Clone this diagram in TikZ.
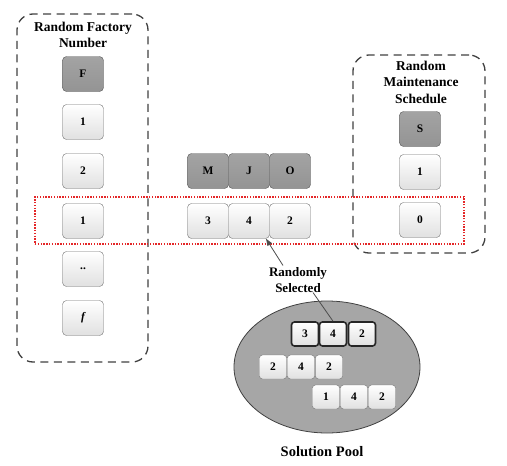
\documentclass[tikz,border=0pt]{standalone}
\usepackage{fontspec}
\setmainfont{Liberation Serif}
\usetikzlibrary{shapes.geometric,arrows.meta}
\definecolor{selred}{RGB}{228,38,40}
\begin{document}
\begin{tikzpicture}[x=1pt,y=-1pt,
  cell/.style={draw=black!55, rounded corners=4pt, top color=white, bottom color=black!12,
    minimum width=41pt, minimum height=35pt, inner sep=0pt, font=\bfseries\fontsize{11.5}{13}\selectfont},
  dcell/.style={cell, top color=black!36, bottom color=black!42, draw=black!65},
  pcell/.style={cell, minimum width=27pt, minimum height=24pt, rounded corners=3pt},
  hcell/.style={pcell, draw=black!85, line width=1.6pt},
  container/.style={draw=black!75, dashed, dash pattern=on 8pt off 5.5pt, line width=1.3pt, rounded corners=16pt, inner sep=0pt},
  selbox/.style={draw=selred, dash pattern=on 1.4pt off 1.4pt, line width=1.6pt, inner sep=0pt},
  title/.style={font=\bfseries\fontsize{13.5}{16.5}\selectfont, align=center, inner sep=0pt},
  conn/.style={draw=black!70, line width=0.8pt}
]
\useasboundingbox (0,0) rectangle (507,466);

% containers
\node[container, minimum width=131pt, minimum height=348pt] (lbox) at (82.5,188) {};
\node[container, minimum width=132pt, minimum height=198pt] (rbox) at (419,154) {};

% titles
\node[title] (ltitle) at (83,35) {Random Factory\\Number};
\node[title] (rtitle) at (421,82) {Random\\Maintenance\\Schedule};

% left column
\node[dcell] (F) at (83,74) {F};
\node[cell] (l1) at (83,122) {1};
\node[cell] (l2) at (83,171) {2};
\node[cell] (l3) at (83,221) {1};
\node[cell] (l4) at (83,269) {..};
\node[cell] (l5) at (83,318) {\itshape f};

% middle
\node[dcell] (M) at (208,171) {M};
\node[dcell] (J) at (249,171) {J};
\node[dcell] (O) at (290,171) {O};
\node[cell] (r3) at (208,221) {3};
\node[cell] (r4) at (249,221) {4};
\node[cell] (r2) at (290,221) {2};

% right column
\node[dcell] (S) at (420,129) {S};
\node[cell] (s1) at (420,172) {1};
\node[cell] (s0) at (420,220) {0};

% selection frame
\node[selbox, minimum width=429pt, minimum height=47pt] (sel) at (249.5,220.5) {};

% randomly selected label
\node[title, font=\bfseries\fontsize{13}{15.5}\selectfont] (lab) at (298,280) {Randomly\\Selected};

% pool
\node[ellipse, draw=black!75, fill=black!35, line width=0.8pt, minimum width=186pt, minimum height=132pt] (pool) at (327,367) {};
\node[hcell] (p13) at (305,334) {3};
\node[hcell] (p14) at (333,334) {4};
\node[hcell] (p12) at (362,334) {2};
\node[pcell] (p22) at (273,367) {2};
\node[pcell] (p24) at (301,367) {4};
\node[pcell] (p2b) at (329,367) {2};
\node[pcell] (p31) at (326,397) {1};
\node[pcell] (p34) at (354,397) {4};
\node[pcell] (p32) at (382,397) {2};
\node[font=\bfseries\fontsize{14.5}{16}\selectfont] (pooltitle) at (322,452) {Solution Pool};

% connectors
\draw[conn, -{Triangle[length=7pt,width=5pt]}] ([xshift=-15pt,yshift=2pt]lab.north) -- ([xshift=17pt]r4.south);
\draw[conn] ([xshift=15pt]lab.south) -- (p14.north);
\end{tikzpicture}
\end{document}
